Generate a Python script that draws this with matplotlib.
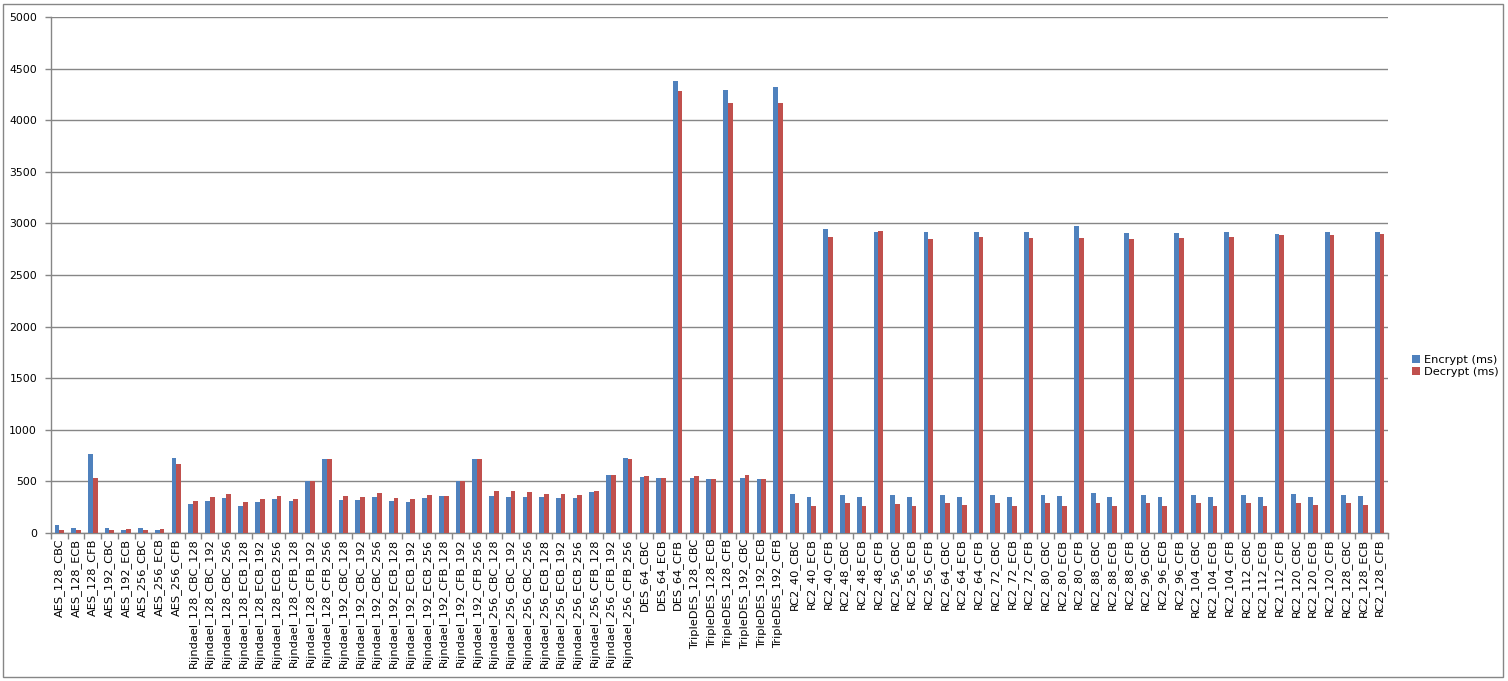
import numpy as np
import matplotlib
matplotlib.use("Agg")
import matplotlib.pyplot as plt
from matplotlib.patches import Rectangle

categories = [
    "AES_128_CBC", "AES_128_ECB", "AES_128_CFB", "AES_192_CBC", "AES_192_ECB",
    "AES_256_CBC", "AES_256_ECB", "AES_256_CFB",
    "Rijndael_128_CBC_128", "Rijndael_128_CBC_192", "Rijndael_128_CBC_256",
    "Rijndael_128_ECB_128", "Rijndael_128_ECB_192", "Rijndael_128_ECB_256",
    "Rijndael_128_CFB_128", "Rijndael_128_CFB_192", "Rijndael_128_CFB_256",
    "Rijndael_192_CBC_128", "Rijndael_192_CBC_192", "Rijndael_192_CBC_256",
    "Rijndael_192_ECB_128", "Rijndael_192_ECB_192", "Rijndael_192_ECB_256",
    "Rijndael_192_CFB_128", "Rijndael_192_CFB_192", "Rijndael_192_CFB_256",
    "Rijndael_256_CBC_128", "Rijndael_256_CBC_192", "Rijndael_256_CBC_256",
    "Rijndael_256_ECB_128", "Rijndael_256_ECB_192", "Rijndael_256_ECB_256",
    "Rijndael_256_CFB_128", "Rijndael_256_CFB_192", "Rijndael_256_CFB_256",
    "DES_64_CBC", "DES_64_ECB", "DES_64_CFB",
    "TripleDES_128_CBC", "TripleDES_128_ECB", "TripleDES_128_CFB",
    "TripleDES_192_CBC", "TripleDES_192_ECB", "TripleDES_192_CFB",
    "RC2_40_CBC", "RC2_40_ECB", "RC2_40_CFB",
    "RC2_48_CBC", "RC2_48_ECB", "RC2_48_CFB",
    "RC2_56_CBC", "RC2_56_ECB", "RC2_56_CFB",
    "RC2_64_CBC", "RC2_64_ECB", "RC2_64_CFB",
    "RC2_72_CBC", "RC2_72_ECB", "RC2_72_CFB",
    "RC2_80_CBC", "RC2_80_ECB", "RC2_80_CFB",
    "RC2_88_CBC", "RC2_88_ECB", "RC2_88_CFB",
    "RC2_96_CBC", "RC2_96_ECB", "RC2_96_CFB",
    "RC2_104_CBC", "RC2_104_ECB", "RC2_104_CFB",
    "RC2_112_CBC", "RC2_112_ECB", "RC2_112_CFB",
    "RC2_120_CBC", "RC2_120_ECB", "RC2_120_CFB",
    "RC2_128_CBC", "RC2_128_ECB", "RC2_128_CFB",
]

encrypt_ms = [
    80, 50, 766, 50, 30, 50, 30, 728,
    283, 312, 341, 264, 303, 332, 312, 505, 718,
    322, 322, 351, 312, 303, 341, 361, 505, 718,
    361, 351, 351, 351, 341, 341, 399, 564, 728,
    544, 535, 4376,
    535, 525, 4297, 535, 525, 4317,
    380, 351, 2944,
    370, 351, 2915,
    370, 351, 2915,
    370, 351, 2915,
    370, 351, 2915,
    370, 361, 2974,
    390, 351, 2905,
    370, 351, 2905,
    370, 351, 2915,
    370, 351, 2895,
    380, 351, 2915,
    370, 361, 2915,
]

decrypt_ms = [
    30, 30, 535, 30, 40, 30, 40, 670,
    312, 351, 380, 303, 332, 361, 332, 505, 718,
    361, 351, 390, 341, 332, 370, 361, 505, 718,
    409, 409, 399, 380, 380, 370, 409, 564, 718,
    554, 535, 4287,
    554, 525, 4170, 564, 525, 4170,
    293, 264, 2866,
    293, 264, 2925,
    283, 264, 2846,
    293, 274, 2866,
    293, 264, 2856,
    293, 264, 2856,
    293, 264, 2846,
    293, 264, 2856,
    293, 264, 2866,
    293, 264, 2885,
    293, 274, 2885,
    293, 274, 2895,
]

series_names = ["Encrypt (ms)", "Decrypt (ms)"]
y_ticks = [0, 500, 1000, 1500, 2000, 2500, 3000, 3500, 4000, 4500, 5000]

grey = "#868686"
fig = plt.figure(figsize=(15.08, 6.81), dpi=100)
ax = fig.add_axes([51 / 1508, 1 - 533 / 681, (1388 - 51) / 1508, (533 - 17) / 681])

x = np.arange(len(categories))
w = 0.285
ax.bar(x - w / 2, encrypt_ms, width=w, color="#4F81BD", label=series_names[0], zorder=3)
ax.bar(x + w / 2, decrypt_ms, width=w, color="#C0504D", label=series_names[1], zorder=3)

ax.set_xlim(-0.5, len(categories) - 0.5)
ax.set_ylim(0, 5000)
ax.set_yticks(y_ticks)
ax.set_yticklabels([str(v) for v in y_ticks], fontsize=7.8)
ax.yaxis.grid(True, color=grey, linewidth=1, zorder=0)
ax.set_axisbelow(True)

ax.set_xticks(x)
ax.set_xticklabels(categories, rotation=90, fontsize=8.2)
ax.set_xticks(np.arange(len(categories) + 1) - 0.5, minor=True)
ax.tick_params(axis="x", which="major", length=0, pad=4)
ax.tick_params(axis="x", which="minor", length=4, color=grey, width=1)
ax.tick_params(axis="y", length=4, color=grey, width=1, pad=6)

for s in ["top", "right"]:
    ax.spines[s].set_visible(False)
for s in ["left", "bottom"]:
    ax.spines[s].set_color(grey)
    ax.spines[s].set_linewidth(1)

fig.legend(loc="center left", bbox_to_anchor=(1406 / 1508, 1 - 366 / 681),
           frameon=False, fontsize=8.2, handlelength=0.7, handleheight=0.7,
           handletextpad=0.4, labelspacing=0.25, borderpad=0)

fig.patches.append(Rectangle((3 / 1508, 4 / 681), 1500 / 1508, 673 / 681,
                             transform=fig.transFigure, fill=False,
                             edgecolor=grey, linewidth=1))

fig.savefig("out.png", dpi=100)
